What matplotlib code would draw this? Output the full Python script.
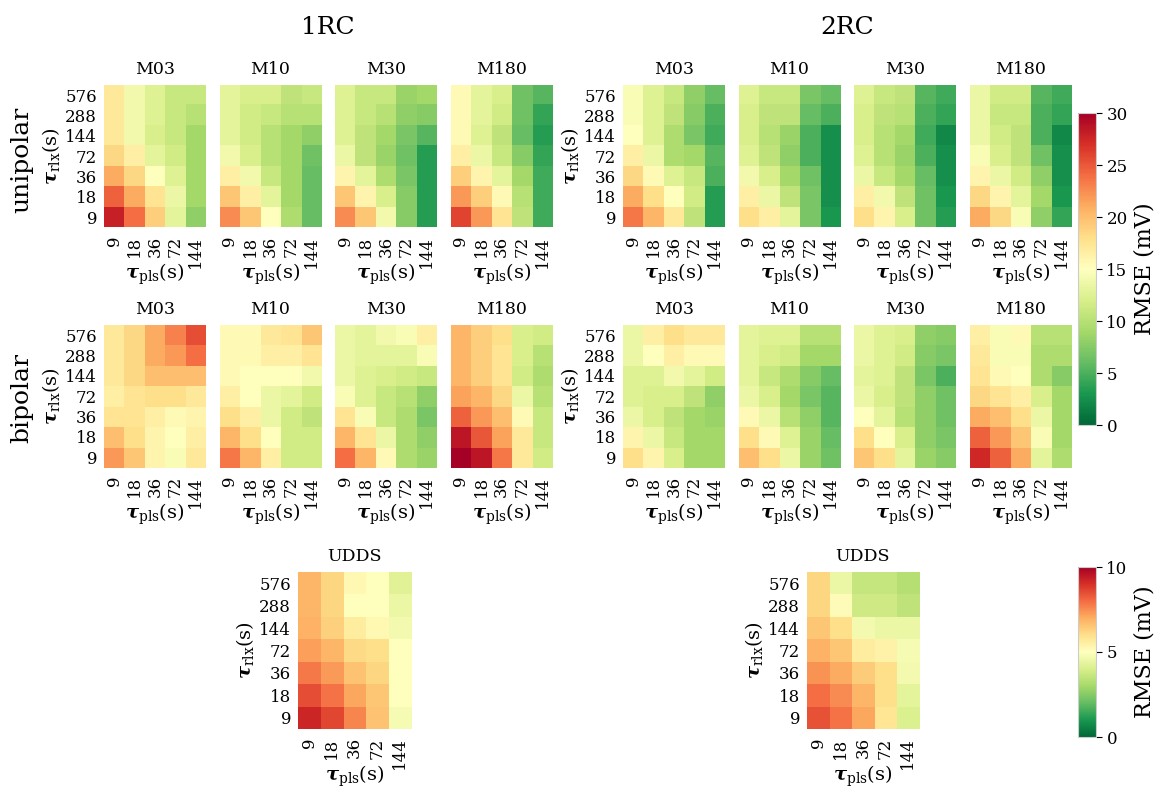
import numpy as np
import matplotlib.pyplot as plt

plt.rcParams['font.family'] = 'DejaVu Serif'
plt.rcParams['mathtext.fontset'] = 'dejavuserif'

tau_pls = ['9', '18', '36', '72', '144']
tau_rlx = ['576', '288', '144', '72', '36', '18', '9']
models = ['M03', 'M10', 'M30', 'M180']

# RMSE in mV; rows are tau_rlx 576 -> 9, columns tau_pls 9 -> 144
rc1_uni_m03 = [[17, 14, 12.5, 11, 11],
               [17, 14, 12.5, 11, 10],
               [17, 14, 12, 11, 9],
               [18.5, 16.5, 13, 11.5, 9],
               [21, 18.5, 15, 12.5, 9],
               [24.5, 21, 17.5, 13.5, 9],
               [28, 24, 19, 13, 8]]
rc1_uni_m10 = [[13, 12, 12, 10.5, 11],
               [13, 11.5, 11, 10, 10],
               [13, 11.5, 10, 9, 8],
               [14, 12, 10, 9, 6.5],
               [16.5, 14, 11, 9, 6],
               [19.5, 16.5, 13, 9, 6],
               [22.5, 19.5, 15, 9.5, 6]]
rc1_uni_m30 = [[12.5, 11, 11, 8.5, 9],
               [12.5, 11, 10, 8, 7.5],
               [12.5, 10.5, 9, 7, 5.5],
               [13.5, 10.5, 8.5, 6.5, 3.5],
               [16, 13, 9.5, 7, 3.5],
               [19.5, 16, 12, 7.5, 3.5],
               [22.5, 19.5, 14, 7.5, 3.5]]
rc1_uni_m180 = [[15.5, 13, 12, 6.5, 5.5],
                [15.5, 13, 11.5, 6.5, 4],
                [15.5, 12.5, 10.5, 6, 3.5],
                [16.5, 13.5, 11, 7.5, 4],
                [19, 16, 13, 9, 4.5],
                [22, 19, 15.5, 10, 4.5],
                [26, 22, 17.5, 10.5, 4.5]]

rc2_uni_m03 = [[14.5, 12.5, 11, 8, 6],
               [14.5, 12.5, 10.5, 7.5, 5],
               [15, 12.5, 9.5, 7, 4.5],
               [16.5, 13.5, 9.5, 9, 5.5],
               [18.5, 15.5, 12.5, 11, 5],
               [21, 18, 15, 11.5, 3.5],
               [23.5, 20.5, 17, 10.5, 3.5]]
rc2_uni_m10 = [[12.5, 11, 11, 7, 6],
               [12, 10.5, 10.5, 6, 5],
               [12, 10, 8.5, 5, 2.5],
               [12.5, 10.5, 8, 5, 2.5],
               [14, 12, 9, 6.5, 2.5],
               [16.5, 13.5, 10.5, 7, 2.5],
               [18, 16.5, 13, 7, 3]]
rc2_uni_m30 = [[12.5, 11, 10.5, 5.5, 4.5],
               [12, 10.5, 10, 5, 4],
               [12, 10, 9, 4.5, 2],
               [12.5, 10, 8.5, 5, 2.5],
               [13.5, 11, 9, 6, 2.5],
               [16.5, 14, 10.5, 6.5, 3],
               [18, 16, 12, 6.5, 3.5]]
rc2_uni_m180 = [[13.5, 11.5, 11.5, 5.5, 4.5],
                [13.5, 11, 11, 5, 4],
                [13.5, 11.5, 10.5, 5, 2],
                [14.5, 12, 10.5, 6.5, 2.5],
                [16, 13.5, 11.5, 8, 2.5],
                [18.5, 16, 13, 9, 3],
                [21, 18.5, 14.5, 8, 4]]

rc1_bi_m03 = [[17, 18.5, 21, 23, 25.5],
              [17, 18.5, 21, 22, 24],
              [17, 18.5, 20, 20, 20],
              [16.5, 17.5, 18, 18, 17],
              [17.5, 17.5, 16.5, 15.5, 16],
              [20, 18, 16, 15, 16.5],
              [22, 19.5, 16, 14.5, 17]]
rc1_bi_m10 = [[15.5, 15.5, 17, 17.5, 19.5],
              [15.5, 15.5, 16.5, 16.5, 17.5],
              [15.5, 15, 15, 15, 14],
              [16.5, 15, 13.5, 13, 11.5],
              [18, 16.5, 13.5, 11.5, 10.5],
              [20.5, 18, 15, 11.5, 11.5],
              [23.5, 20.5, 16.5, 11.5, 11.5]]
rc1_bi_m30 = [[13.5, 13, 14, 14.5, 16.5],
              [13.5, 13, 13, 13, 14.5],
              [13.5, 12.5, 12, 11.5, 11],
              [14.5, 12.5, 11, 10, 8],
              [17.5, 14.5, 11, 9.5, 7],
              [20.5, 17.5, 13.5, 9.5, 8],
              [24, 20.5, 15.5, 9.5, 8.5]]
rc1_bi_m180 = [[20.5, 19, 18, 12, 11.5],
               [20.5, 19, 17.5, 12, 10],
               [20.5, 19, 17.5, 11.5, 9.5],
               [21.5, 20.5, 18.5, 13.5, 10],
               [24.5, 22, 20, 15.5, 11],
               [28.5, 25, 21.5, 17, 11],
               [30, 28.5, 23.5, 17, 11.5]]

rc2_bi_m03 = [[13.5, 16.5, 18, 17, 17],
              [13.5, 15, 16.5, 15.5, 15.5],
              [12.5, 12.5, 14, 13, 11.5],
              [12.5, 12, 12, 10.5, 8],
              [13.5, 12, 10.5, 9, 8.5],
              [16, 13.5, 11, 9, 9],
              [18, 16, 12, 9, 9]]
rc2_bi_m10 = [[13, 12.5, 12.5, 10, 10],
              [13, 12, 11.5, 9, 9],
              [13, 11, 9.5, 7.5, 6],
              [13.5, 12, 9, 7, 5.5],
              [15.5, 13.5, 10, 8, 5.5],
              [18, 15.5, 12.5, 8.5, 6],
              [20, 18, 13.5, 8.5, 6.5]]
rc2_bi_m30 = [[13.5, 12.5, 12, 8, 7.5],
              [13.5, 12.5, 11.5, 7.5, 7],
              [13, 12.5, 10.5, 7, 5],
              [13.5, 12, 10.5, 8, 6.5],
              [15, 13, 10, 8, 6.5],
              [18, 15, 12, 8, 7],
              [19.5, 18, 13, 8.5, 7.5]]
rc2_bi_m180 = [[16.5, 14.5, 15.5, 10, 10],
               [17, 14.5, 14.5, 9.5, 9.5],
               [17.5, 15.5, 15, 9.5, 7.5],
               [18.5, 17.5, 16.5, 12, 9],
               [21, 20, 18, 13.5, 9],
               [24.5, 22, 19.5, 14.5, 9],
               [27.5, 24.5, 21, 13, 9.5]]

rc1_udds = [[6.8, 6.2, 5.2, 5.0, 4.2],
            [6.8, 6.2, 5.0, 5.0, 4.5],
            [6.9, 6.3, 5.6, 5.2, 4.7],
            [7.2, 6.8, 6.1, 6.0, 5.0],
            [7.8, 7.3, 6.6, 6.2, 5.0],
            [8.5, 7.9, 7.1, 6.5, 5.0],
            [9.2, 8.6, 7.6, 6.6, 4.8]]
rc2_udds = [[6.2, 4.5, 3.6, 3.6, 3.3],
            [6.2, 5.1, 3.8, 3.8, 3.5],
            [6.5, 6.0, 4.7, 4.5, 4.5],
            [6.9, 6.5, 5.6, 5.4, 4.8],
            [7.4, 7.0, 6.4, 6.0, 4.7],
            [8.0, 7.5, 6.8, 6.0, 4.3],
            [8.4, 7.9, 7.1, 5.8, 4.1]]

W, H = 1158, 789
fig = plt.figure(figsize=(W / 100, H / 100), dpi=100)
cmap = 'RdYlGn_r'

xlab = r'$\boldsymbol{\tau}_{\mathrm{pls}}$(s)'
ylab = r'$\boldsymbol{\tau}_{\mathrm{rlx}}$(s)'


def add_ax(x0, y0, x1, y1):
    return fig.add_axes([x0 / W, 1 - y1 / H, (x1 - x0) / W, (y1 - y0) / H])


def heat(ax, data, vmax, title, show_y):
    im = ax.imshow(np.array(data), cmap=cmap, vmin=0, vmax=vmax,
                   aspect='auto', interpolation='nearest')
    for s in ax.spines.values():
        s.set_visible(False)
    ax.set_xticks(range(len(tau_pls)))
    ax.set_xticklabels(tau_pls, rotation=90, fontsize=12)
    ax.set_yticks(range(len(tau_rlx)))
    if show_y:
        ax.set_yticklabels(tau_rlx, fontsize=12)
        ax.set_ylabel(ylab, fontsize=14, labelpad=2)
    else:
        ax.set_yticklabels([])
    ax.tick_params(axis='y', length=0, pad=5)
    ax.tick_params(axis='x', length=0, pad=6)
    ax.set_xlabel(xlab, fontsize=14, labelpad=-4)
    ax.set_title(title, fontsize=12.5, pad=8)
    return im


groups = {
    '1RC': ([rc1_uni_m03, rc1_uni_m10, rc1_uni_m30, rc1_uni_m180],
            [rc1_bi_m03, rc1_bi_m10, rc1_bi_m30, rc1_bi_m180],
            [104, 219.5, 335, 450.5]),
    '2RC': ([rc2_uni_m03, rc2_uni_m10, rc2_uni_m30, rc2_uni_m180],
            [rc2_bi_m03, rc2_bi_m10, rc2_bi_m30, rc2_bi_m180],
            [623, 738.5, 854, 969.5]),
}
pw = 102
for name, (uni, bi, xs) in groups.items():
    for i in range(4):
        ax = add_ax(xs[i], 85, xs[i] + pw, 227.5)
        im_top = heat(ax, uni[i], 30, models[i], i == 0)
        ax = add_ax(xs[i], 325, xs[i] + pw, 467.5)
        heat(ax, bi[i], 30, models[i], i == 0)
    fig.text((xs[0] + xs[3] + pw) / 2 / W, 1 - 27 / H, name,
             ha='center', va='center', fontsize=18)

ax = add_ax(298, 572, 411, 729)
heat(ax, rc1_udds, 10, 'UDDS', True)
ax = add_ax(807, 572, 919, 729)
im_bot = heat(ax, rc2_udds, 10, 'UDDS', True)

fig.text(22 / W, 1 - 160 / H, 'unipolar', rotation=90,
         ha='center', va='center', fontsize=18)
fig.text(22 / W, 1 - 398 / H, 'bipolar', rotation=90,
         ha='center', va='center', fontsize=18)

for im, (y0, y1), ticks in [(im_top, (113, 425), range(0, 31, 5)),
                            (im_bot, (567, 737), range(0, 11, 5))]:
    cax = add_ax(1078, y0, 1096, y1)
    cb = fig.colorbar(im, cax=cax, ticks=list(ticks))
    cb.outline.set_edgecolor('#cccccc')
    cb.ax.tick_params(labelsize=12, length=4, width=0.8)
    cb.set_label('RMSE (mV)', fontsize=16, labelpad=4)

fig.savefig('out.png', dpi=100)
